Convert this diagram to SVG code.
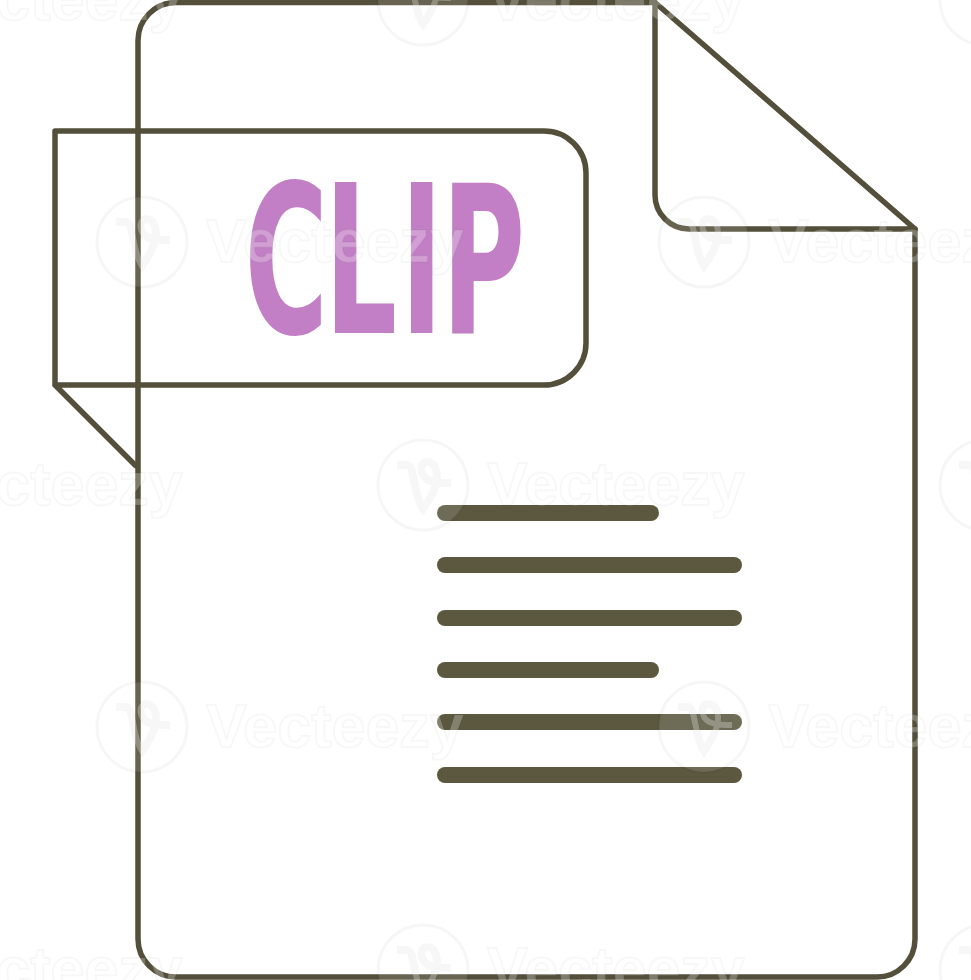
<svg xmlns="http://www.w3.org/2000/svg" width="971" height="980" viewBox="0 0 971 980">
<style>
.ln{fill:none;stroke:#544f3a;stroke-width:5.500;stroke-linejoin:round;stroke-linecap:round}
.bar{fill:#5b583f}
.lbl{font-family:"DejaVu Sans",sans-serif;font-weight:700;font-size:207px;fill:#c27fc5}
.wm{font-family:"Liberation Sans",sans-serif;font-weight:700;font-size:61px;fill:#fff;fill-opacity:.25;stroke:#000;stroke-opacity:.03;stroke-width:2}
.wl{fill:#fff;fill-opacity:.12;stroke:#000;stroke-opacity:.035;stroke-width:3}
</style>
<defs>
<g id="mark">
<circle class="wl" cx="0" cy="0" r="45"/>
<path d="M-26 -20h10c8 0 6 30 16 44c10 -14 18 -30 12 -42c-6 -10 -18 -4 -12 8c4 8 18 8 28 8" fill="none" stroke="#fff" stroke-opacity=".3" stroke-width="6"/>
<path d="M-26 -20h10c8 0 6 30 16 44c10 -14 18 -30 12 -42c-6 -10 -18 -4 -12 8c4 8 18 8 28 8" fill="none" stroke="#000" stroke-opacity=".03" stroke-width="8"/>
<text class="wm" x="64" y="20">Vecteezy</text>
</g>
</defs>
<rect width="971" height="980" fill="#fff"/>
<g id="page"><path class="ln" d="M655 2.500H176A38 38 0 0 0 138 40.500V939A38 38 0 0 0 176 977H877A38 38 0 0 0 915 939V229L655 2.500"/></g>
<g id="fold"><path class="ln" d="M655 2.500V195A34 34 0 0 0 689 229H915"/></g>
<g id="tab"><path class="ln" d="M55 131H544A42 42 0 0 1 586 173V343A42 42 0 0 1 544 385H55ZM55 385L135.500 465.500"/></g>
<g id="label"><text class="lbl" transform="scale(.55 1)" x="444.500 590 728 803" y="333">CLIP</text></g>
<g id="lines">
<rect class="bar" x="437" y="505" width="222" height="16" rx="8"/>
<rect class="bar" x="437" y="557" width="305" height="16" rx="8"/>
<rect class="bar" x="437" y="610" width="305" height="16" rx="8"/>
<rect class="bar" x="437" y="662" width="222" height="16" rx="8"/>
<rect class="bar" x="437" y="714" width="305" height="16" rx="8"/>
<rect class="bar" x="437" y="767" width="305" height="16" rx="8"/>
</g>
<g id="watermark">
<use href="#mark" x="-139" y="0"/><use href="#mark" x="423" y="0"/><use href="#mark" x="985" y="0"/>
<use href="#mark" x="142" y="242"/><use href="#mark" x="704" y="242"/>
<use href="#mark" x="-139" y="485"/><use href="#mark" x="423" y="485"/><use href="#mark" x="985" y="485"/>
<use href="#mark" x="142" y="727"/><use href="#mark" x="704" y="727"/>
<use href="#mark" x="-139" y="970"/><use href="#mark" x="423" y="970"/><use href="#mark" x="985" y="970"/>
</g>
</svg>
